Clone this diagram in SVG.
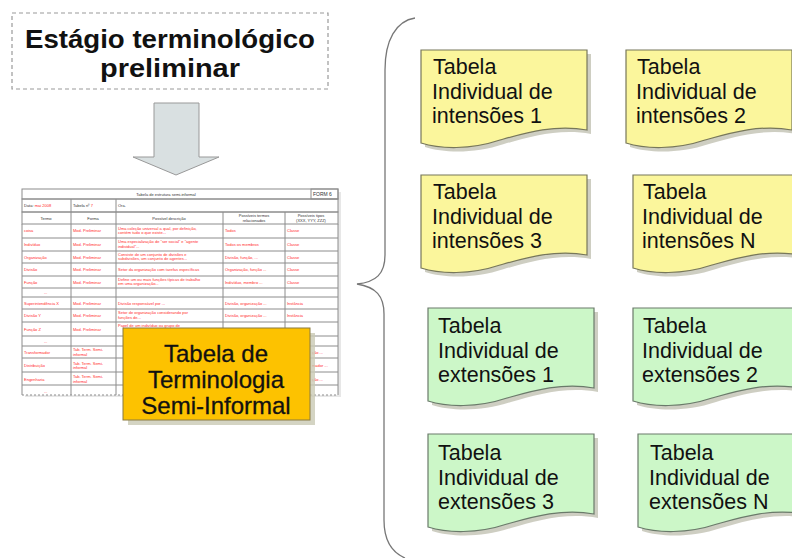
<svg xmlns="http://www.w3.org/2000/svg" width="792" height="558" viewBox="0 0 792 558">
<style>
.title{font-family:"Liberation Sans",Arial,sans-serif;font-weight:bold;font-size:26px;fill:#111;text-anchor:middle}
.note{font-family:"Liberation Sans",Arial,sans-serif;font-size:21.5px;fill:#111}
.orange{font-family:"Liberation Sans",Arial,sans-serif;font-size:24px;fill:#111;text-anchor:middle;stroke:#111;stroke-width:0.3}
.tt{font-family:"Liberation Sans",Arial,sans-serif;font-size:4px;fill:#ff2a2a}
.th{font-family:"Liberation Sans",Arial,sans-serif;font-size:4px;fill:#333}
.yel{fill:#fbf69c;stroke:#77775a;stroke-width:1.2}
.grn{fill:#ccf7c8;stroke:#6a7a6a;stroke-width:1.2}
.shd{fill:#b9b9a8;opacity:0.7}
.tl{stroke:#8c8c8c;stroke-width:1;fill:none}
</style>
<defs>
<path id="doc" d="M0,0 H166 V80 C134,74 104,83 79,90 C49,100 19,99 0,93 Z"/>
</defs>

<g id="title-box">
<rect x="12" y="13" width="316" height="76" fill="#fff" stroke="#9a9a9a" stroke-width="1.2" stroke-dasharray="4,3"/>
<text class="title" x="170" y="48" textLength="290" lengthAdjust="spacingAndGlyphs">Estágio terminológico</text>
<text class="title" x="170" y="77" textLength="140" lengthAdjust="spacingAndGlyphs">preliminar</text>
</g>

<g id="connectors">
<path d="M154,103 H199 V157 H219 L176,175 L133,157 H154 Z" fill="#d9e0e1" stroke="#999" stroke-width="1"/>
<path d="M415,18 C396,21 385,40 385,70 L385,255 C385,274 376,282 357,284 C376,287 384,296 384,314 L384,520 C384,540 391,552 405,558" fill="none" stroke="#777" stroke-width="1.3"/>
</g>

<g id="semi-table">
<rect x="25" y="192" width="316" height="205" fill="#d0d0d0" opacity="0.5"/>
<rect x="22" y="189" width="316" height="206" fill="#fff"/>
<rect x="22" y="189" width="316" height="10" fill="#d9d9d9" class="tl"/>
<rect x="311" y="189" width="27" height="10" fill="#e6e6e6" class="tl"/>
<rect x="22" y="199" width="316" height="13" fill="#e3e3e3" class="tl"/>
<rect x="22" y="212" width="316" height="12" fill="#d9d9d9" class="tl"/>
<g class="tl">
<path d="M22,224 V395 M71,199 V395 M116,199 V395 M223,212 V395 M285,212 V395 M338,224 V395"/>
<path d="M22,238 H338 M22,251 H338 M22,263 H338 M22,276 H338 M22,288 H338 M22,297 H338 M22,309 H338 M22,322 H338 M22,336 H338 M22,346 H338 M22,358 H338 M22,372 H338 M22,385 H338"/>
<path d="M22,395 H338" stroke-dasharray="2,2"/>
</g>
<text class="th" x="166" y="195.5" text-anchor="middle">Tabela de estrutura semi-informal</text>
<text class="th" x="313" y="195.5" style="font-size:5px">FORM 6</text>
<text class="th" x="24" y="207">Data: <tspan fill="#ff2a2a">mai 2008</tspan></text>
<text class="th" x="73" y="207">Tabela nº <tspan fill="#ff2a2a">7</tspan></text>
<text class="th" x="118" y="207">Ora.</text>
<text class="th" x="46" y="219.5" text-anchor="middle">Termo</text>
<text class="th" x="93" y="219.5" text-anchor="middle">Forma</text>
<text class="th" x="169" y="219.5" text-anchor="middle">Possível descrição</text>
<text class="th" x="254" y="217" text-anchor="middle">Possíveis termos</text>
<text class="th" x="254" y="221.5" text-anchor="middle">relacionados</text>
<text class="th" x="311" y="217" text-anchor="middle">Possíveis tipos</text>
<text class="th" x="311" y="221.5" text-anchor="middle">(XXX, YYY, ZZZ)</text>

<text class="tt" x="24" y="232">coisa</text><text class="tt" x="73" y="232">Mod. Preliminar</text><text class="tt" x="118" y="229.5">Uma coleção universal a qual, por definição,</text><text class="tt" x="118" y="234">contém tudo o que existe...</text><text class="tt" x="225" y="232">Todos</text><text class="tt" x="287" y="232">Classe</text>
<text class="tt" x="24" y="246">Indivíduo</text><text class="tt" x="73" y="246">Mod. Preliminar</text><text class="tt" x="118" y="243">Uma especialização de "ser social" e "agente</text><text class="tt" x="118" y="247.5">individual"...</text><text class="tt" x="225" y="246">Todos os membros</text><text class="tt" x="287" y="246">Classe</text>
<text class="tt" x="24" y="258.5">Organização</text><text class="tt" x="73" y="258.5">Mod. Preliminar</text><text class="tt" x="118" y="255.5">Consiste de um conjunto de divisões e</text><text class="tt" x="118" y="260">subdivisões, um conjunto de agentes...</text><text class="tt" x="225" y="258.5">Divisão, função, ...</text><text class="tt" x="287" y="258.5">Classe</text>
<text class="tt" x="24" y="271">Divisão</text><text class="tt" x="73" y="271">Mod. Preliminar</text><text class="tt" x="118" y="271">Setor da organização com tarefas específicas</text><text class="tt" x="225" y="271">Organização, função ...</text><text class="tt" x="287" y="271">Classe</text>
<text class="tt" x="24" y="283.5">Função</text><text class="tt" x="73" y="283.5">Mod. Preliminar</text><text class="tt" x="118" y="280.5">Define um ou mais funções típicas de trabalho</text><text class="tt" x="118" y="285">em uma organização...</text><text class="tt" x="225" y="283.5">Indivíduo, membro ...</text><text class="tt" x="287" y="283.5">Classe</text>
<text class="tt" x="44" y="294">...</text>
<text class="tt" x="24" y="304.5">Superintendência X</text><text class="tt" x="73" y="304.5">Mod. Preliminar</text><text class="tt" x="118" y="304.5">Divisão responsável por ...</text><text class="tt" x="225" y="304.5">Divisão, organização ...</text><text class="tt" x="287" y="304.5">Instância</text>
<text class="tt" x="24" y="317">Divisão Y</text><text class="tt" x="73" y="317">Mod. Preliminar</text><text class="tt" x="118" y="314">Setor de organização considerando por</text><text class="tt" x="118" y="318.5">funções de...</text><text class="tt" x="225" y="317">Divisão, organização ...</text><text class="tt" x="287" y="317">Instância</text>
<text class="tt" x="24" y="330.5">Função Z</text><text class="tt" x="73" y="330.5">Mod. Preliminar</text><text class="tt" x="118" y="327">Papel de um indivíduo ou grupo de</text><text class="tt" x="225" y="330.5">Indivíduo, divisão ...</text><text class="tt" x="287" y="330.5">Instância</text>
<text class="tt" x="44" y="343">...</text>
<text class="tt" x="24" y="353.5">Transformador</text><text class="tt" x="73" y="351">Tab. Term. Semi-</text><text class="tt" x="73" y="355.5">informal</text><text class="tt" x="312" y="353.5">ção ...</text>
<text class="tt" x="24" y="367">Distribuição</text><text class="tt" x="73" y="364.5">Tab. Term. Semi-</text><text class="tt" x="73" y="369">informal</text><text class="tt" x="312" y="367">mador ...</text>
<text class="tt" x="24" y="380.5">Engenharia</text><text class="tt" x="73" y="378">Tab. Term. Semi-</text><text class="tt" x="73" y="382.5">informal</text><text class="tt" x="312" y="380.5">ção ...</text>
<text class="tt" x="44" y="393">...</text>
</g>

<g id="terminologia-box">
<rect x="128" y="333" width="187" height="92" fill="#c9c9b4" opacity="0.8"/>
<rect x="123" y="328" width="187" height="92" fill="#fdc200" stroke="#8a7a40" stroke-width="1"/>
<text class="orange" x="216" y="362">Tabela de</text>
<text class="orange" x="216" y="388">Terminologia</text>
<text class="orange" x="216" y="414">Semi-Informal</text>
</g>

<g id="int1">
<use href="#doc" x="425" y="54" class="shd"/>
<use href="#doc" x="421" y="50" class="yel"/>
<text class="note" x="433" y="74">Tabela</text>
<text class="note" x="432" y="99">Individual de</text>
<text class="note" x="432" y="123">intensões 1</text>
</g>
<g id="int2">
<use href="#doc" x="630" y="54" class="shd"/>
<use href="#doc" x="626" y="50" class="yel"/>
<text class="note" x="637" y="74">Tabela</text>
<text class="note" x="636" y="99">Individual de</text>
<text class="note" x="636" y="123">intensões 2</text>
</g>
<g id="int3">
<use href="#doc" x="425" y="179" class="shd"/>
<use href="#doc" x="421" y="175" class="yel"/>
<text class="note" x="433" y="199">Tabela</text>
<text class="note" x="432" y="224">Individual de</text>
<text class="note" x="432" y="248">intensões 3</text>
</g>
<g id="intN">
<use href="#doc" x="637" y="179" class="shd"/>
<use href="#doc" x="633" y="175" class="yel"/>
<text class="note" x="643" y="199">Tabela</text>
<text class="note" x="642" y="224">Individual de</text>
<text class="note" x="642" y="248">intensões N</text>
</g>
<g id="ext1">
<use href="#doc" x="432" y="312" class="shd"/>
<use href="#doc" x="428" y="308" class="grn"/>
<text class="note" x="438" y="333">Tabela</text>
<text class="note" x="438" y="358">Individual de</text>
<text class="note" x="438" y="382">extensões 1</text>
</g>
<g id="ext2">
<use href="#doc" x="637" y="312" class="shd"/>
<use href="#doc" x="633" y="308" class="grn"/>
<text class="note" x="643" y="333">Tabela</text>
<text class="note" x="642" y="358">Individual de</text>
<text class="note" x="642" y="382">extensões 2</text>
</g>
<g id="ext3">
<use href="#doc" x="432" y="438" class="shd"/>
<use href="#doc" x="428" y="434" class="grn"/>
<text class="note" x="438" y="460">Tabela</text>
<text class="note" x="438" y="485">Individual de</text>
<text class="note" x="438" y="509">extensões 3</text>
</g>
<g id="extN">
<use href="#doc" x="642" y="438" class="shd"/>
<use href="#doc" x="638" y="434" class="grn"/>
<text class="note" x="650" y="460">Tabela</text>
<text class="note" x="649" y="485">Individual de</text>
<text class="note" x="649" y="509">extensões N</text>
</g>
</svg>
